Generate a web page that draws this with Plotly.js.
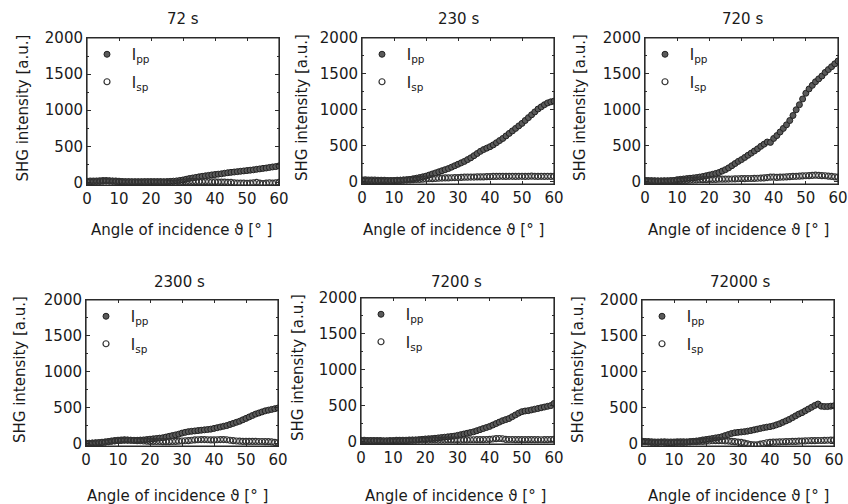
<!DOCTYPE html>
<html>
<head>
<meta charset="utf-8">
<script src="https://cdn.plot.ly/plotly-3.0.1.min.js"></script>
<style>html,body{margin:0;padding:0;background:#fff;}#chart{width:848px;height:504px;}</style>
</head>
<body>
<div id="chart"></div>
<script>
// ---- data ----
const angles = [0,1,2,3,4,5,6,7,8,9,10,11,12,13,14,15,16,17,18,19,20,21,22,23,24,25,26,27,28,29,30,31,32,33,34,35,36,37,38,39,40,41,42,43,44,45,46,47,48,49,50,51,52,53,54,55,56,57,58,59,60];
const panelTitles = ["72 s","230 s","720 s","2300 s","7200 s","72000 s"];
const seriesNames = ["\u00a0I<sub>pp</sub>","\u00a0I<sub>sp</sub>"];
const xTicks = [0,10,20,30,40,50,60];
const yTicks = [0,500,1000,1500,2000];

const ipp_72 = [10,10,12,15,15,18,20,20,18,15, 12,10,10,10,8,8,8,8,10,10, 10,10,10,10,10,12,15,18,22,28, 35,45,55,62,70,78,85,92,98,105, 110,115,120,128,135,140,145,150,155,160, 165,170,175,182,188,195,200,208,215,220, 230];
const isp_72 = [15,18,20,20,22,25,25,22,20,18, 15,12,10,10,10,8,8,8,10,10, 10,10,8,8,5,0,-5,-10,-5,0, 5,10,15,15,12,10,10,12,10,8, 8,5,5,5,0,0,-5,-8,-10,-10, -12,-10,-5,0,-10,-15,-10,-5,-10,-5, 0];

const ipp_230 = [15,12,10,10,8,8,8,10,10,10, 12,15,18,20,25,30,38,46,55,65, 75,90,105,120,135,150,165,180,200,220, 240,260,280,305,330,360,390,420,445,465, 485,510,540,570,600,635,670,705,740,775, 810,850,890,930,970,1010,1040,1070,1095,1110, 1120];
const isp_230 = [20,22,20,18,18,15,15,15,12,12, 12,15,15,18,20,22,25,28,30,32, 35,38,40,42,45,48,50,50,52,55, 55,58,60,60,62,62,65,65,65,68, 68,70,70,72,72,70,72,72,70,72, 72,70,72,75,72,70,72,70,72,70, 72];

const ipp_720 = [15,12,10,10,8,8,10,10,12,15, 25,30,35,40,45,50,55,62,70,80, 90,100,112,125,145,165,190,220,250,280, 305,335,365,395,425,455,490,520,550,545, 600,640,690,740,790,850,920,1000,1070,1150, 1230,1290,1340,1390,1430,1470,1520,1560,1600,1640, 1680];
const isp_720 = [10,8,8,6,5,5,5,6,8,10, 12,14,15,16,18,20,22,24,25,26, 28,30,30,32,32,33,34,35,36,38, 40,40,42,42,44,45,48,50,55,60, 60,58,60,62,65,68,70,72,75,78, 80,82,85,88,85,82,80,75,70,65, 60];

const ipp_2300 = [5,5,8,10,12,15,20,25,30,35, 40,42,45,45,45,45,45,48,50,55, 60,65,70,75,80,90,100,110,120,130, 145,155,165,170,175,180,185,190,195,200, 210,220,230,240,250,265,280,295,310,330, 350,370,390,410,425,440,455,465,475,485, 495];
const isp_2300 = [0,0,2,5,10,15,20,28,35,40, 45,48,50,48,45,42,40,38,35,32, 30,30,28,28,25,25,25,28,30,32, 35,38,40,45,50,52,55,55,52,50, 50,52,55,55,52,45,40,35,32,30, 30,30,30,30,28,28,26,25,22,15, 10];

const ipp_7200 = [10,10,10,10,10,8,8,5,5,5, 5,5,8,10,12,15,18,20,25,30, 35,38,40,45,50,55,60,65,70,75, 85,95,105,115,125,135,150,165,180,195, 210,230,250,270,290,305,320,345,370,395, 415,425,430,440,450,460,470,480,490,500, 530];
const isp_7200 = [15,15,14,14,12,12,12,10,10,12, 14,15,15,16,16,18,18,18,20,20, 20,20,22,22,20,20,20,22,22,22, 20,20,22,22,24,24,25,25,26,28, 30,35,40,42,38,30,28,28,26,26, 25,25,26,26,25,25,24,25,26,28, 30];

const ipp_72000 = [30,25,20,15,15,15,20,15,10,10, 15,15,15,15,20,25,30,35,40,50, 55,62,70,78,85,95,110,125,140,150, 155,160,165,172,180,190,200,210,220,228, 235,245,260,275,295,315,335,360,385,410, 430,455,480,505,530,550,520,515,515,520, 525];
const isp_72000 = [30,28,25,22,20,18,20,22,20,18, 20,22,24,22,20,22,24,26,28,30, 32,35,38,40,40,38,36,34,30,25, 20,15,5,-5,-15,-20,-18,-10,0,10, 15,18,20,22,24,26,28,30,30,32, 34,36,38,40,40,42,42,44,45,46, 48];

const ippData = [ipp_72, ipp_230, ipp_720, ipp_2300, ipp_7200, ipp_72000];
const ispData = [isp_72, isp_230, isp_720, isp_2300, isp_7200, isp_72000];

// ---- layout geometry (pixels) ----
const W = 848, H = 504;
const boxes = [
  {l:87,  r:279, t:38, b:185, yt:22,  tx:183, ty:19,  xtx:181, xty:230},
  {l:362, r:554, t:38, b:184, yt:302, tx:458, ty:19,  xtx:454, xty:230},
  {l:645, r:838, t:38, b:184, yt:580, tx:742, ty:19,  xtx:738, xty:230},
  {l:86,  r:278, t:300, b:446, yt:20,  tx:179, ty:282, xtx:177, xty:496},
  {l:361, r:554, t:298, b:444, yt:298, tx:457, ty:282, xtx:455, xty:496},
  {l:642, r:834, t:300, b:446, yt:578, tx:740, ty:282, xtx:738, xty:496}
];
const px = v => v / W;
const py = v => 1 - v / H;

const FONT = "DejaVu Sans, Arial, sans-serif";
const TXT = "#1a1a1a";
const LINE = "#2b2b2b";

const traces = [];
const layout = {
  width: W, height: H,
  margin: {l:0, r:0, t:0, b:0},
  paper_bgcolor: "#fff", plot_bgcolor: "#fff",
  showlegend: true,
  font: {family: FONT, color: TXT, size: 15},
  annotations: [],
  shapes: []
};

boxes.forEach((b, i) => {
  const n = i + 1;
  const xa = n === 1 ? "x" : "x" + n;
  const ya = n === 1 ? "y" : "y" + n;
  const lg = n === 1 ? "legend" : "legend" + n;
  traces.push({
    type: "scatter", mode: "markers", x: angles, y: ippData[i],
    xaxis: xa, yaxis: ya, name: seriesNames[0], legend: lg, legendgroup: "a" + n,
    marker: {symbol: "circle", size: 6, color: "#5a5a5a", line: {color: "#222", width: 1}},
    cliponaxis: true, hoverinfo: "skip"
  });
  traces.push({
    type: "scatter", mode: "markers", x: angles, y: ispData[i],
    xaxis: xa, yaxis: ya, name: seriesNames[1], legend: lg, legendgroup: "b" + n,
    marker: {symbol: "circle-open", size: 6, color: "#333", line: {color: "#333", width: 1.2}},
    cliponaxis: true, hoverinfo: "skip"
  });
  const axCommon = {
    showline: true, mirror: "ticks", linecolor: LINE, linewidth: 1,
    showgrid: false, zeroline: false, ticks: "inside", tickcolor: LINE, tickwidth: 1,
    tickfont: {family: FONT, size: 15, color: TXT}, fixedrange: true
  };
  layout["xaxis" + (n === 1 ? "" : n)] = Object.assign({}, axCommon, {
    domain: [px(b.l), px(b.r)], anchor: ya, range: [0, 60],
    tickvals: xTicks, ticklen: 3
  });
  layout["yaxis" + (n === 1 ? "" : n)] = Object.assign({}, axCommon, {
    domain: [py(b.b), py(b.t)], anchor: xa, range: [-35, 2000],
    tickvals: yTicks, ticklen: 4,
    minor: {tickvals: [250, 750, 1250, 1750], ticks: "inside", ticklen: 2, tickcolor: LINE, showgrid: false}
  });
  // frame around each plot area
  layout.shapes.push({
    type: "rect", xref: xa + " domain", yref: ya + " domain",
    x0: 0, x1: 1, y0: 0, y1: 1, line: {color: LINE, width: 1.2}, layer: "above"
  });
  layout[lg] = {
    x: px(b.l), y: py(b.t), xref: "paper", yref: "paper",
    xanchor: "left", yanchor: "top", bgcolor: "rgba(0,0,0,0)",
    font: {family: FONT, size: 15, color: TXT},
    traceorder: "grouped", tracegroupgap: 5, itemwidth: 30
  };
  layout.annotations.push({
    text: panelTitles[i], xref: "paper", yref: "paper", x: px(b.tx), y: py(b.ty),
    xanchor: "center", yanchor: "middle", showarrow: false,
    font: {family: FONT, size: 15, color: TXT}
  });
  layout.annotations.push({
    text: "SHG intensity [a.u.]", xref: "paper", yref: "paper", x: px(b.yt), y: py((b.t + b.b) / 2 - 3),
    xanchor: "center", yanchor: "middle", showarrow: false, textangle: -90,
    font: {family: FONT, size: 15, color: TXT}
  });
  layout.annotations.push({
    text: "Angle of incidence \u03d1 [\u00b0 ]", xref: "paper", yref: "paper", x: px(b.xtx), y: py(b.xty),
    xanchor: "center", yanchor: "middle", showarrow: false,
    font: {family: FONT, size: 15, color: TXT}
  });
});

Plotly.newPlot("chart", traces, layout, {displayModeBar: false, staticPlot: true});
</script>
</body>
</html>
